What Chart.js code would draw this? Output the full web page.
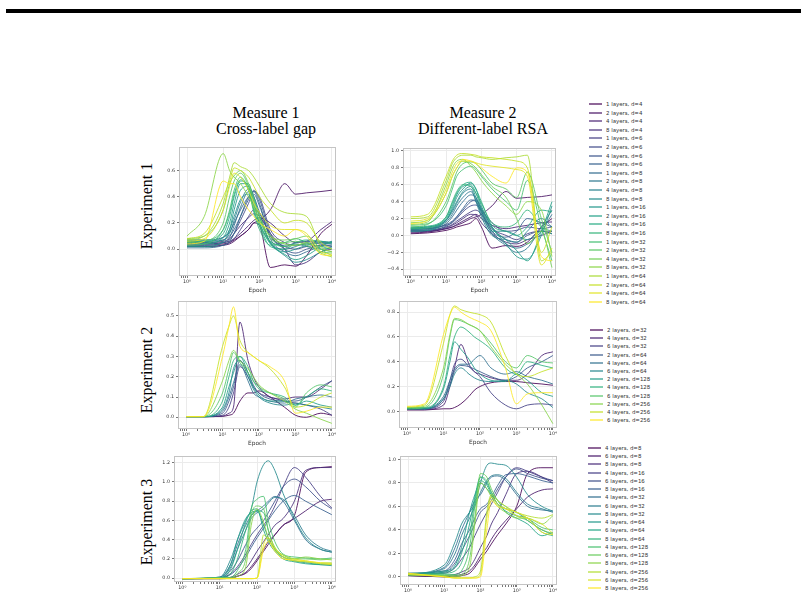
<!DOCTYPE html>
<html>
<head>
<meta charset="utf-8">
<script src="https://cdn.jsdelivr.net/npm/chart.js@4.4.1/dist/chart.umd.min.js"></script>
<style>
html, body { margin: 0; padding: 0; background: #fff; }
body { width: 804px; height: 596px; position: relative; overflow: hidden; }
.head { position: absolute; transform: translateX(-50%); font-family: 'Liberation Serif', 'Times New Roman', serif; font-size: 16px; line-height: 16px; text-align: center; white-space: nowrap; color: #000; }
.rowlab { position: absolute; transform: translate(-50%, -50%) rotate(-90deg); font-family: 'Liberation Serif', 'Times New Roman', serif; font-size: 16px; white-space: nowrap; color: #000; }
.legtxt { position: absolute; font-family: 'DejaVu Sans', sans-serif; font-size: 10.8px; line-height: 12px; height: 12px; transform: scale(0.5); transform-origin: 0 50%; white-space: nowrap; color: #333; }
</style>
</head>
<body>
<div style="position:absolute;left:6px;top:9px;width:795px;height:4px;background:#000"></div>
<div class="head" style="left:266px;top:105px">Measure 1<br>Cross-label gap</div>
<div class="head" style="left:483px;top:105px">Measure 2<br>Different-label RSA</div>
<div class="rowlab" style="left:147px;top:206px">Experiment 1</div>
<div class="rowlab" style="left:147px;top:370px">Experiment 2</div>
<div class="rowlab" style="left:147px;top:522px">Experiment 3</div>

<script>
const epochs = [1, 3, 10, 15, 20, 30, 50, 70, 100, 200, 500, 1000, 2000, 5000, 10000];
const epochs3 = [1, 10, 20, 30, 50, 70, 100, 150, 200, 300, 500, 1000, 2000, 5000, 10000];

const xTicks = [1, 10, 100, 1000, 10000];
const xTickLabels = ['10\u2070', '10\u00b9', '10\u00b2', '10\u00b3', '10\u2074'];

const layers1 = [1, 2, 4, 8];
const dims1 = [4, 6, 8, 16, 32, 64];
const layers2 = [2, 4, 6];
const dims2 = [32, 64, 128, 256];
const layers3 = [4, 6, 8];
const dims3 = [8, 16, 32, 64, 128, 256];

const yTicks11 = [0.0, 0.2, 0.4, 0.6];
const yTicks12 = [-0.4, -0.2, 0.0, 0.2, 0.4, 0.6, 0.8, 1.0];
const yTicks21 = [0.0, 0.1, 0.2, 0.3, 0.4, 0.5];
const yTicks22 = [0.0, 0.2, 0.4, 0.6, 0.8];
const yTicks31 = [0.0, 0.2, 0.4, 0.6, 0.8, 1.0, 1.2];
const yTicks32 = [0.0, 0.2, 0.4, 0.6, 0.8, 1.0];

// Experiment 1, cross-label gap (one row per legend entry)
const gap1 = [
  [0.03, 0.03, 0.04, 0.05, 0.07, 0.10, 0.15, 0.20, 0.18, -0.14, -0.12, -0.13, -0.05, 0.12, 0.19],
  [0.02, 0.02, 0.03, 0.04, 0.06, 0.10, 0.15, 0.20, 0.22, 0.30, 0.50, 0.42, 0.43, 0.44, 0.45],
  [0.04, 0.04, 0.05, 0.06, 0.08, 0.12, 0.18, 0.22, 0.24, 0.20, 0.10, 0.05, 0.06, 0.15, 0.21],
  [0.05, 0.05, 0.06, 0.08, 0.12, 0.18, 0.24, 0.27, 0.25, 0.12, 0.00, -0.12, -0.10, -0.02, 0.00],
  [0.02, 0.02, 0.03, 0.05, 0.08, 0.15, 0.25, 0.30, 0.28, 0.10, 0.02, 0.00, 0.02, 0.03, 0.02],
  [0.04, 0.04, 0.05, 0.07, 0.12, 0.22, 0.35, 0.44, 0.40, 0.15, 0.05, 0.03, 0.04, 0.05, 0.05],
  [0.06, 0.06, 0.07, 0.10, 0.15, 0.25, 0.38, 0.45, 0.38, 0.12, 0.00, -0.03, 0.00, 0.03, 0.06],
  [0.07, 0.07, 0.09, 0.13, 0.20, 0.30, 0.40, 0.42, 0.33, 0.10, 0.02, 0.05, 0.06, 0.04, 0.04],
  [0.01, 0.01, 0.03, 0.06, 0.12, 0.25, 0.40, 0.44, 0.35, 0.08, -0.02, -0.05, -0.02, 0.02, 0.03],
  [0.03, 0.03, 0.05, 0.09, 0.18, 0.32, 0.44, 0.40, 0.28, 0.05, 0.00, 0.02, 0.05, 0.06, 0.05],
  [0.05, 0.05, 0.07, 0.12, 0.22, 0.36, 0.46, 0.38, 0.25, 0.06, 0.03, 0.04, 0.02, 0.00, 0.01],
  [0.06, 0.06, 0.09, 0.15, 0.25, 0.38, 0.42, 0.33, 0.20, 0.05, -0.05, -0.10, -0.08, -0.02, 0.02],
  [0.02, 0.02, 0.06, 0.15, 0.30, 0.45, 0.48, 0.40, 0.25, 0.05, -0.02, 0.00, 0.03, 0.05, 0.04],
  [0.04, 0.04, 0.09, 0.20, 0.35, 0.50, 0.50, 0.36, 0.20, 0.04, -0.04, -0.08, -0.05, 0.02, 0.06],
  [0.06, 0.06, 0.12, 0.25, 0.40, 0.52, 0.48, 0.30, 0.18, 0.02, 0.00, 0.05, 0.07, 0.06, 0.05],
  [0.07, 0.07, 0.15, 0.28, 0.42, 0.53, 0.45, 0.28, 0.15, 0.03, 0.05, 0.08, 0.05, 0.00, -0.02],
  [0.03, 0.04, 0.15, 0.30, 0.45, 0.55, 0.45, 0.30, 0.18, 0.06, 0.02, 0.03, 0.04, 0.02, 0.00],
  [0.05, 0.06, 0.20, 0.40, 0.52, 0.58, 0.48, 0.35, 0.22, 0.08, 0.05, 0.06, 0.03, -0.02, -0.03],
  [0.08, 0.10, 0.30, 0.50, 0.56, 0.60, 0.50, 0.38, 0.25, 0.10, 0.07, 0.08, 0.10, 0.00, -0.05],
  [0.10, 0.25, 0.73, 0.60, 0.55, 0.50, 0.40, 0.32, 0.22, 0.10, 0.04, 0.03, 0.05, -0.03, -0.06],
  [0.07, 0.10, 0.35, 0.55, 0.66, 0.63, 0.60, 0.55, 0.48, 0.35, 0.28, 0.27, 0.25, 0.02, -0.02],
  [0.08, 0.12, 0.40, 0.52, 0.62, 0.60, 0.55, 0.48, 0.40, 0.30, 0.20, 0.22, 0.20, 0.05, 0.00],
  [0.06, 0.08, 0.30, 0.48, 0.58, 0.55, 0.45, 0.35, 0.28, 0.18, 0.15, 0.15, 0.12, -0.02, -0.04],
  [0.04, 0.06, 0.52, 0.50, 0.50, 0.40, 0.30, 0.25, 0.20, 0.15, 0.10, 0.15, 0.10, -0.04, -0.05]
];

// Experiment 1, different-label RSA
const rsa1 = [
  [0.02, 0.03, 0.06, 0.08, 0.10, 0.12, 0.15, 0.20, 0.10, -0.15, -0.12, -0.13, -0.08, 0.10, 0.20],
  [0.03, 0.04, 0.08, 0.10, 0.12, 0.15, 0.20, 0.22, 0.25, 0.35, 0.52, 0.44, 0.45, 0.46, 0.48],
  [0.05, 0.05, 0.08, 0.10, 0.13, 0.17, 0.22, 0.25, 0.20, 0.12, 0.08, 0.10, 0.12, 0.15, 0.16],
  [0.04, 0.05, 0.09, 0.12, 0.15, 0.20, 0.25, 0.24, 0.15, 0.02, -0.08, -0.10, -0.05, 0.00, 0.05],
  [0.06, 0.06, 0.10, 0.13, 0.17, 0.22, 0.28, 0.30, 0.25, 0.08, 0.00, -0.05, 0.02, 0.05, 0.05],
  [0.07, 0.08, 0.12, 0.15, 0.20, 0.28, 0.35, 0.36, 0.30, 0.15, 0.05, 0.06, 0.10, 0.08, 0.10],
  [0.08, 0.08, 0.13, 0.17, 0.22, 0.30, 0.40, 0.42, 0.32, 0.10, -0.05, -0.08, 0.00, 0.05, 0.02],
  [0.05, 0.06, 0.11, 0.16, 0.22, 0.32, 0.42, 0.40, 0.28, 0.05, -0.02, 0.05, 0.20, 0.15, 0.10],
  [0.06, 0.07, 0.14, 0.22, 0.30, 0.40, 0.48, 0.45, 0.30, 0.05, -0.10, -0.15, -0.10, 0.05, 0.25],
  [0.08, 0.09, 0.16, 0.25, 0.35, 0.45, 0.52, 0.42, 0.25, 0.02, -0.12, -0.20, -0.15, 0.10, 0.30],
  [0.09, 0.10, 0.18, 0.28, 0.38, 0.50, 0.55, 0.40, 0.22, 0.00, -0.05, -0.08, 0.05, 0.20, 0.10],
  [0.07, 0.08, 0.18, 0.30, 0.40, 0.52, 0.58, 0.45, 0.28, 0.05, 0.05, 0.00, -0.05, 0.05, 0.02],
  [0.05, 0.06, 0.18, 0.32, 0.45, 0.55, 0.62, 0.55, 0.35, 0.10, -0.10, -0.25, -0.28, 0.00, 0.35],
  [0.09, 0.10, 0.20, 0.35, 0.48, 0.58, 0.60, 0.50, 0.32, 0.08, -0.05, -0.18, -0.30, 0.05, 0.40],
  [0.10, 0.11, 0.22, 0.38, 0.50, 0.60, 0.63, 0.55, 0.40, 0.12, 0.05, 0.00, 0.10, 0.30, 0.28],
  [0.08, 0.09, 0.22, 0.40, 0.52, 0.60, 0.58, 0.50, 0.38, 0.15, 0.10, 0.15, 0.30, 0.10, 0.05],
  [0.12, 0.14, 0.35, 0.55, 0.70, 0.78, 0.82, 0.78, 0.70, 0.55, 0.40, 0.30, 0.65, 0.10, -0.30],
  [0.10, 0.13, 0.40, 0.60, 0.75, 0.85, 0.87, 0.85, 0.78, 0.62, 0.55, 0.45, 0.75, 0.20, -0.20],
  [0.15, 0.18, 0.50, 0.70, 0.80, 0.88, 0.85, 0.80, 0.72, 0.58, 0.45, 0.20, -0.10, 0.05, -0.38],
  [0.13, 0.16, 0.60, 0.80, 0.88, 0.90, 0.82, 0.75, 0.65, 0.50, 0.35, 0.25, 0.40, 0.30, -0.25],
  [0.20, 0.22, 0.65, 0.85, 0.92, 0.95, 0.95, 0.93, 0.92, 0.90, 0.92, 0.93, 0.95, -0.30, -0.20],
  [0.22, 0.25, 0.70, 0.88, 0.95, 0.97, 0.96, 0.95, 0.93, 0.92, 0.90, 0.88, 0.80, -0.20, 0.10],
  [0.17, 0.20, 0.55, 0.75, 0.85, 0.88, 0.88, 0.86, 0.84, 0.82, 0.80, 0.78, 0.70, -0.35, -0.15],
  [0.14, 0.18, 0.50, 0.70, 0.80, 0.90, 0.88, 0.85, 0.80, 0.70, 0.62, 0.80, 0.75, -0.25, -0.30]
];

// Experiment 2, cross-label gap
const gap2 = [
  [0.003, 0.003, 0.005, 0.01, 0.02, 0.08, 0.12, 0.12, 0.13, 0.10, 0.05, 0.01, 0.00, 0.02, 0.01],
  [0.003, 0.003, 0.005, 0.02, 0.05, 0.47, 0.28, 0.20, 0.15, 0.10, 0.09, 0.10, 0.10, 0.14, 0.18],
  [0.003, 0.003, 0.01, 0.05, 0.12, 0.25, 0.20, 0.15, 0.12, 0.10, 0.08, 0.07, 0.06, 0.04, 0.01],
  [0.003, 0.003, 0.02, 0.08, 0.15, 0.28, 0.22, 0.16, 0.12, 0.09, 0.08, 0.08, 0.10, 0.15, 0.18],
  [0.003, 0.003, 0.03, 0.10, 0.17, 0.26, 0.18, 0.12, 0.10, 0.08, 0.07, 0.09, 0.10, 0.11, 0.10],
  [0.003, 0.003, 0.04, 0.12, 0.24, 0.28, 0.20, 0.14, 0.10, 0.07, 0.06, 0.07, 0.06, 0.05, 0.04],
  [0.003, 0.003, 0.05, 0.15, 0.22, 0.30, 0.22, 0.15, 0.11, 0.08, 0.08, 0.06, 0.08, 0.06, 0.05],
  [0.003, 0.003, 0.08, 0.20, 0.28, 0.30, 0.25, 0.18, 0.14, 0.12, 0.10, 0.06, 0.10, 0.14, 0.13],
  [0.003, 0.003, 0.12, 0.24, 0.32, 0.27, 0.22, 0.18, 0.15, 0.12, 0.09, 0.05, 0.12, 0.16, 0.15],
  [0.003, 0.003, 0.18, 0.28, 0.33, 0.28, 0.24, 0.20, 0.16, 0.12, 0.08, 0.04, 0.02, -0.01, -0.03],
  [0.003, 0.003, 0.35, 0.45, 0.50, 0.38, 0.32, 0.30, 0.28, 0.24, 0.15, 0.05, 0.06, 0.10, 0.12],
  [0.003, 0.003, 0.30, 0.45, 0.545, 0.35, 0.32, 0.30, 0.28, 0.25, 0.18, 0.02, 0.03, 0.05, 0.05]
];

// Experiment 2, different-label RSA
const rsa2 = [
  [0.01, 0.01, 0.02, 0.02, 0.03, 0.06, 0.12, 0.17, 0.20, 0.23, 0.24, 0.24, 0.23, 0.22, 0.21],
  [0.015, 0.015, 0.05, 0.20, 0.35, 0.54, 0.38, 0.32, 0.30, 0.27, 0.25, 0.25, 0.30, 0.45, 0.48],
  [0.02, 0.02, 0.08, 0.25, 0.38, 0.42, 0.36, 0.32, 0.28, 0.15, 0.05, 0.02, 0.05, 0.06, 0.05],
  [0.02, 0.02, 0.10, 0.22, 0.32, 0.37, 0.36, 0.34, 0.32, 0.28, 0.25, 0.28, 0.35, 0.40, 0.45],
  [0.025, 0.025, 0.12, 0.25, 0.34, 0.38, 0.38, 0.42, 0.45, 0.35, 0.30, 0.32, 0.28, 0.25, 0.22],
  [0.02, 0.02, 0.10, 0.20, 0.30, 0.35, 0.30, 0.27, 0.25, 0.24, 0.25, 0.22, 0.15, 0.10, 0.03],
  [0.02, 0.02, 0.18, 0.40, 0.56, 0.50, 0.42, 0.35, 0.30, 0.25, 0.24, 0.30, 0.25, 0.15, 0.12],
  [0.03, 0.03, 0.20, 0.45, 0.60, 0.68, 0.64, 0.60, 0.57, 0.50, 0.35, 0.30, 0.40, 0.37, 0.35],
  [0.02, 0.03, 0.30, 0.60, 0.74, 0.73, 0.70, 0.68, 0.65, 0.55, 0.40, 0.35, 0.45, 0.40, 0.39],
  [0.03, 0.04, 0.35, 0.62, 0.75, 0.74, 0.70, 0.68, 0.65, 0.52, 0.38, 0.30, 0.22, 0.05, -0.10],
  [0.035, 0.05, 0.55, 0.78, 0.85, 0.82, 0.80, 0.79, 0.78, 0.72, 0.45, 0.30, 0.28, 0.32, 0.35],
  [0.04, 0.06, 0.62, 0.78, 0.84, 0.80, 0.76, 0.74, 0.72, 0.65, 0.35, 0.06, 0.14, 0.15, 0.15]
];

// Experiment 3, cross-label gap (epochs3)
const gap3 = [
  [-0.005, -0.005, 0.00, 0.02, 0.05, 0.10, 0.18, 0.28, 0.35, 0.45, 0.55, 0.65, 1.10, 1.15, 1.16],
  [-0.005, -0.005, 0.00, 0.02, 0.06, 0.12, 0.20, 0.30, 0.38, 0.45, 0.55, 0.62, 0.70, 0.80, 0.82],
  [-0.005, -0.005, 0.01, 0.04, 0.10, 0.18, 0.28, 0.38, 0.45, 0.55, 0.62, 0.80, 1.12, 1.15, 1.15],
  [-0.005, 0.00, 0.05, 0.12, 0.25, 0.35, 0.45, 0.55, 0.62, 0.75, 0.95, 1.15, 1.05, 0.85, 0.73],
  [-0.005, 0.00, 0.08, 0.18, 0.35, 0.45, 0.52, 0.60, 0.68, 0.80, 0.95, 1.03, 0.95, 0.80, 0.72],
  [-0.005, 0.00, 0.04, 0.10, 0.22, 0.32, 0.42, 0.52, 0.60, 0.70, 0.80, 0.86, 0.80, 0.72, 0.66],
  [-0.005, 0.01, 0.15, 0.35, 0.55, 0.65, 0.70, 0.75, 0.80, 0.85, 0.80, 0.60, 0.40, 0.30, 0.27],
  [-0.005, 0.01, 0.12, 0.30, 0.50, 0.62, 0.68, 0.72, 0.78, 0.84, 0.82, 0.65, 0.45, 0.32, 0.28],
  [-0.005, 0.01, 0.20, 0.40, 0.60, 0.72, 1.00, 1.18, 1.22, 1.12, 0.88, 0.62, 0.42, 0.30, 0.27],
  [-0.005, 0.00, 0.15, 0.40, 0.62, 0.68, 0.70, 0.55, 0.42, 0.30, 0.22, 0.18, 0.16, 0.14, 0.13],
  [-0.005, 0.00, 0.10, 0.30, 0.58, 0.70, 0.72, 0.50, 0.38, 0.28, 0.20, 0.17, 0.15, 0.14, 0.14],
  [-0.005, 0.00, 0.05, 0.20, 0.50, 0.65, 0.70, 0.68, 0.50, 0.30, 0.22, 0.18, 0.17, 0.15, 0.15],
  [-0.005, 0.00, 0.01, 0.08, 0.30, 0.72, 0.82, 0.85, 0.60, 0.38, 0.25, 0.22, 0.21, 0.20, 0.21],
  [-0.005, 0.00, 0.00, 0.05, 0.20, 0.65, 0.75, 0.72, 0.50, 0.32, 0.24, 0.20, 0.20, 0.19, 0.20],
  [-0.005, 0.00, 0.00, 0.02, 0.12, 0.55, 0.72, 0.58, 0.42, 0.30, 0.22, 0.20, 0.22, 0.20, 0.19],
  [-0.005, -0.005, -0.005, -0.005, -0.005, -0.005, 0.00, 0.45, 0.40, 0.30, 0.24, 0.20, 0.18, 0.16, 0.16],
  [-0.005, -0.005, -0.005, -0.005, -0.005, -0.005, 0.00, 0.35, 0.42, 0.32, 0.22, 0.18, 0.17, 0.15, 0.14],
  [-0.005, -0.005, -0.005, -0.005, -0.005, -0.005, 0.00, 0.30, 0.38, 0.28, 0.20, 0.19, 0.18, 0.16, 0.15]
];

// Experiment 3, different-label RSA (epochs3)
const rsa3 = [
  [0.01, 0.00, 0.00, 0.01, 0.03, 0.08, 0.15, 0.22, 0.28, 0.36, 0.45, 0.60, 0.88, 0.93, 0.93],
  [0.01, 0.00, 0.01, 0.02, 0.05, 0.10, 0.18, 0.25, 0.32, 0.40, 0.48, 0.58, 0.68, 0.74, 0.75],
  [0.02, 0.01, 0.02, 0.04, 0.08, 0.15, 0.25, 0.35, 0.45, 0.55, 0.70, 0.88, 0.90, 0.85, 0.80],
  [0.02, 0.03, 0.08, 0.15, 0.25, 0.35, 0.45, 0.55, 0.62, 0.72, 0.85, 0.93, 0.90, 0.85, 0.82],
  [0.02, 0.04, 0.12, 0.22, 0.35, 0.45, 0.55, 0.60, 0.65, 0.75, 0.85, 0.92, 0.88, 0.84, 0.82],
  [0.03, 0.05, 0.15, 0.28, 0.40, 0.50, 0.58, 0.62, 0.68, 0.78, 0.87, 0.88, 0.86, 0.82, 0.80],
  [0.02, 0.08, 0.25, 0.40, 0.55, 0.65, 0.70, 0.80, 0.85, 0.86, 0.82, 0.70, 0.60, 0.57, 0.56],
  [0.02, 0.07, 0.20, 0.35, 0.50, 0.60, 0.72, 0.82, 0.86, 0.87, 0.84, 0.72, 0.62, 0.58, 0.55],
  [0.02, 0.10, 0.30, 0.45, 0.55, 0.62, 0.80, 0.95, 0.97, 0.96, 0.95, 0.85, 0.70, 0.60, 0.56],
  [0.03, 0.05, 0.10, 0.25, 0.55, 0.70, 0.80, 0.75, 0.70, 0.62, 0.58, 0.55, 0.48, 0.40, 0.36],
  [0.02, 0.04, 0.08, 0.20, 0.45, 0.68, 0.85, 0.80, 0.72, 0.65, 0.55, 0.50, 0.45, 0.35, 0.38],
  [0.02, 0.03, 0.05, 0.12, 0.35, 0.65, 0.82, 0.78, 0.70, 0.62, 0.56, 0.52, 0.50, 0.38, 0.35],
  [0.02, 0.02, 0.02, 0.05, 0.25, 0.60, 0.85, 0.82, 0.72, 0.62, 0.58, 0.55, 0.50, 0.42, 0.40],
  [0.01, 0.01, 0.01, 0.02, 0.15, 0.50, 0.88, 0.85, 0.75, 0.65, 0.60, 0.52, 0.48, 0.40, 0.37],
  [0.02, 0.01, 0.00, 0.01, 0.08, 0.45, 0.80, 0.75, 0.68, 0.60, 0.55, 0.50, 0.50, 0.45, 0.52],
  [0.03, 0.00, -0.01, -0.01, -0.01, 0.00, 0.05, 0.55, 0.70, 0.65, 0.60, 0.55, 0.52, 0.50, 0.53],
  [0.02, 0.00, -0.01, -0.01, -0.01, -0.01, 0.02, 0.50, 0.68, 0.62, 0.58, 0.52, 0.50, 0.45, 0.37],
  [0.03, 0.00, -0.01, -0.01, -0.01, -0.01, 0.00, 0.40, 0.65, 0.60, 0.58, 0.55, 0.50, 0.38, 0.36]
];

// viridis colour stops
const VIRIDIS = ['#440154', '#482475', '#414487', '#355f8d', '#2a788e', '#21918c',
                 '#22a884', '#44bf70', '#7ad151', '#bddf26', '#fde725'];

function viridis(t, alpha) {
    var p = t * (VIRIDIS.length - 1);
    var i = Math.min(Math.floor(p), VIRIDIS.length - 2);
    var f = p - i;
    var a = VIRIDIS[i], b = VIRIDIS[i + 1];
    var c = [1, 3, 5].map(function(k) {
        var u = parseInt(a.substr(k, 2), 16), v = parseInt(b.substr(k, 2), 16);
        return Math.round(u + (v - u) * f);
    });
    return 'rgba(' + c[0] + ',' + c[1] + ',' + c[2] + ',' + alpha + ')';
}

function makeLabels(layers, dims) {
    var out = [];
    dims.forEach(function(d) {
        layers.forEach(function(l) { out.push(l + ' layers, d=' + d); });
    });
    return out;
}

function makeColors(n, alpha) {
    var out = [];
    for (var i = 0; i < n; i++) out.push(viridis(i / (n - 1), alpha));
    return out;
}

// major + minor log ticks for the x axis
var xAllTicks = [0.7, 0.8, 0.9];
xTicks.forEach(function(d) {
    xAllTicks.push(d);
    if (d < 10000) for (var m = 2; m <= 9; m++) xAllTicks.push(m * d);
});

const frame = {
    id: 'frame',
    beforeDatasetsDraw: function(chart) {
        var a = chart.chartArea, ctx = chart.ctx;
        ctx.save();
        ctx.strokeStyle = '#c4c4c4';
        ctx.lineWidth = 1;
        ctx.strokeRect(a.left + 0.5, a.top + 0.5, a.right - a.left - 1, a.bottom - a.top - 1);
        ctx.restore();
    }
};

function makePanel(box, xs, rows, colors, yMin, yMax, yTicks, showTitle) {
    var yw = 22, xh = 18, padT = 6, padR = 8;
    var w = box[2] - box[0] + yw + padR;
    var h = box[3] - box[1] + padT + xh;
    var canvas = document.createElement('canvas');
    canvas.width = w;
    canvas.height = h;
    canvas.style.cssText = 'position:absolute;left:' + (box[0] - yw) + 'px;top:' + (box[1] - padT) +
        'px;width:' + w + 'px;height:' + h + 'px';
    document.body.appendChild(canvas);

    var datasets = rows.map(function(vals, i) {
        return {
            data: vals.map(function(v, k) { return {x: xs[k], y: v}; }),
            borderColor: colors[i],
            borderWidth: 1,
            pointRadius: 0,
            fill: false,
            cubicInterpolationMode: 'monotone',
            order: -i
        };
    });

    new Chart(canvas, {
        type: 'line',
        data: {datasets: datasets},
        plugins: [frame],
        options: {
            responsive: false,
            animation: false,
            devicePixelRatio: 1,
            events: [],
            layout: {padding: {top: padT, right: padR, left: 0, bottom: 0}},
            plugins: {legend: {display: false}, tooltip: {enabled: false}},
            scales: {
                x: {
                    type: 'logarithmic',
                    min: 0.62,
                    max: 13000,
                    afterBuildTicks: function(s) {
                        s.ticks = xAllTicks.filter(function(v) { return v >= s.min && v <= s.max; })
                            .map(function(v) { return {value: v}; });
                    },
                    afterFit: function(s) { s.height = xh; },
                    border: {display: false},
                    grid: {
                        color: function(c) { return c.tick && xTicks.indexOf(c.tick.value) >= 0 ? '#ebebeb' : 'rgba(0,0,0,0)'; },
                        tickColor: '#777',
                        tickLength: 2
                    },
                    ticks: {
                        autoSkip: false,
                        maxRotation: 0,
                        padding: 1,
                        color: '#333',
                        font: {family: 'DejaVu Sans', size: 4.8},
                        callback: function(v) {
                            var k = xTicks.indexOf(v);
                            return k >= 0 ? xTickLabels[k] : '';
                        }
                    },
                    title: {display: showTitle, text: 'Epoch', color: '#333', padding: 0,
                            font: {family: 'DejaVu Sans', size: 5.8}}
                },
                y: {
                    type: 'linear',
                    min: yMin,
                    max: yMax,
                    afterBuildTicks: function(s) {
                        s.ticks = yTicks.map(function(v) { return {value: v}; });
                    },
                    afterFit: function(s) { s.width = yw; },
                    border: {display: false},
                    grid: {color: '#ebebeb', tickColor: '#777', tickLength: 2},
                    ticks: {
                        padding: 2,
                        color: '#333',
                        font: {family: 'DejaVu Sans', size: 4.8},
                        callback: function(v) { return v.toFixed(1).replace('-', '\u2212'); }
                    }
                }
            }
        }
    });
}

function drawLegend(x, y, step, labels, colors) {
    labels.forEach(function(lab, i) {
        var cy = Math.round(y + i * step);
        var sw = document.createElement('div');
        sw.style.cssText = 'position:absolute;left:' + x + 'px;top:' + (cy - 1) +
            'px;width:13px;height:2px;background:' + colors[i];
        document.body.appendChild(sw);
        var tx = document.createElement('div');
        tx.className = 'legtxt';
        tx.style.left = (x + 17) + 'px';
        tx.style.top = (cy - 6) + 'px';
        tx.textContent = lab;
        document.body.appendChild(tx);
    });
}

var labels1 = makeLabels(layers1, dims1);
var labels2 = makeLabels(layers2, dims2);
var labels3 = makeLabels(layers3, dims3);
var colors1 = makeColors(labels1.length, 0.85);
var colors2 = makeColors(labels2.length, 0.85);
var colors3 = makeColors(labels3.length, 0.85);

makePanel([179, 147, 336, 276], epochs, gap1, colors1, -0.205, 0.78, yTicks11, true);
makePanel([403, 148, 556, 276], epochs, rsa1, colors1, -0.48, 1.035, yTicks12, true);
makePanel([178, 301, 336, 429], epochs, gap2, colors2, -0.058, 0.574, yTicks21, true);
makePanel([399, 301, 557, 428], epochs, rsa2, colors2, -0.135, 0.89, yTicks22, true);
makePanel([174, 456, 336, 582], epochs3, gap3, colors3, -0.04, 1.27, yTicks31, false);
makePanel([400, 456, 557, 585], epochs3, rsa3, colors3, -0.07, 1.03, yTicks32, false);

drawLegend(589, 104, 8.6, labels1, makeColors(labels1.length, 0.6));
drawLegend(590, 330, 8.2, labels2, makeColors(labels2.length, 0.6));
drawLegend(588, 448, 8.24, labels3, makeColors(labels3.length, 0.6));
</script>
</body>
</html>
